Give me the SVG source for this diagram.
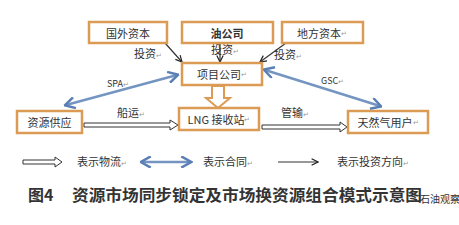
<svg xmlns="http://www.w3.org/2000/svg" width="459" height="225" viewBox="0 0 459 225">
<defs>
<style>
text{font-family:"Noto Sans CJK SC","Noto Sans",sans-serif;fill:#333;}
.lb{font-size:11px;text-anchor:middle;dominant-baseline:central;}
.t{font-size:11px;}
.s{font-size:9px;}
.m{fill:#999;font-size:7px;}
.box{fill:#fff;stroke:#dc9b55;stroke-width:2.5;}
.inv{stroke:#333;stroke-width:1.2;fill:none;}
.con{stroke:#7495c2;stroke-width:2.5;fill:none;}
.flow{fill:#fff;stroke:#333;stroke-width:1;}
</style>
<marker id="ah" viewBox="0 0 10 10" refX="9" refY="5" markerWidth="8" markerHeight="8" orient="auto" markerUnits="userSpaceOnUse">
<path d="M1,1 L9,5 L1,9" fill="none" stroke="#222" stroke-width="1.5"/>
</marker>
<marker id="bh" viewBox="0 0 10 10" refX="8" refY="5" markerWidth="5" markerHeight="5" orient="auto-start-reverse">
<path d="M1,0.5 L9,5 L1,9.5" fill="none" stroke="#5a7fb5" stroke-width="2"/>
</marker>
</defs>
<rect width="459" height="225" fill="#fff"/>

<g id="connectors">
<line class="inv" x1="165" y1="43" x2="182" y2="62" marker-end="url(#ah)"/>
<line class="inv" x1="220" y1="43" x2="220" y2="62" marker-end="url(#ah)"/>
<line class="inv" x1="286" y1="43" x2="260" y2="62" marker-end="url(#ah)"/>
<line class="con" x1="66" y1="105" x2="177" y2="75" marker-start="url(#bh)" marker-end="url(#bh)"/>
<line class="con" x1="265" y1="70" x2="380" y2="106" marker-start="url(#bh)" marker-end="url(#bh)"/>
<polygon points="212,86 224,86 224,98 230,98 218,108 206,98 212,98" fill="#fff" stroke="#dc9b55" stroke-width="2"/>
<polygon class="flow" points="84,123 170,123 170,120 178,125 170,130 170,127 84,127"/>
<polygon class="flow" points="262,125 340,125 340,122 347,127 340,132 340,129 262,129"/>
<text class="t" x="134" y="58">投资<tspan class="m">↵</tspan></text>
<text class="t" x="211" y="54">投资<tspan class="m">↵</tspan></text>
<text class="t" x="274" y="59">投资<tspan class="m">↵</tspan></text>
<text class="s" x="107" y="87">SPA<tspan class="m">↵</tspan></text>
<text class="s" x="321" y="84">GSC<tspan class="m">↵</tspan></text>
<text class="t" x="117" y="117">船运<tspan class="m">↵</tspan></text>
<text class="t" x="281" y="117">管输<tspan class="m">↵</tspan></text>
</g>

<g id="n-guowai"><rect class="box" x="89" y="22" width="78" height="21"/><text class="lb" x="128" y="32.5">国外资本</text></g>
<g id="n-you"><rect class="box" x="182" y="22" width="91" height="21"/><text class="lb" x="227" y="32.5" font-weight="bold">油公司</text></g>
<g id="n-difang"><rect class="box" x="282" y="22" width="81" height="21"/><text class="lb" x="322" y="32.5">地方资本<tspan class="m">↵</tspan></text></g>
<g id="n-xiangmu"><rect class="box" x="182" y="63" width="80" height="22"/><text class="lb" x="222" y="74">项目公司<tspan class="m">↵</tspan></text></g>
<g id="n-lng"><rect class="box" x="179" y="108" width="80" height="22"/><text class="lb" x="219" y="119">LNG 接收站<tspan class="m">↵</tspan></text></g>
<g id="n-ziyuan"><rect class="box" x="17" y="111" width="65" height="22"/><text class="lb" x="49.5" y="122">资源供应</text></g>
<g id="n-yonghu"><rect class="box" x="348" y="111" width="80" height="22"/><text class="lb" x="388" y="122">天然气用户<tspan class="m">↵</tspan></text></g>

<g id="legend">
<polygon class="flow" points="23,160 55,160 55,157 62,162 55,167 55,164 23,164"/>
<text class="t" x="77" y="166">表示物流<tspan class="m">↵</tspan></text>
<line class="con" x1="142" y1="162" x2="190" y2="162" marker-start="url(#bh)" marker-end="url(#bh)"/>
<text class="t" x="203" y="166">表示合同<tspan class="m">↵</tspan></text>
<line class="inv" x1="278" y1="162" x2="318" y2="162" marker-end="url(#ah)"/>
<text class="t" x="337" y="166">表示投资方向<tspan class="m">↵</tspan></text>
</g>

<g id="caption">
<text x="28" y="201" font-size="16" font-weight="bold" fill="#222">图4</text>
<text x="72" y="201" font-size="16" font-weight="bold" fill="#222" textLength="350" lengthAdjust="spacingAndGlyphs">资源市场同步锁定及市场换资源组合模式示意图</text>
<text x="420" y="203" font-size="10" fill="#aaa">石油观察</text>
</g>
</svg>
